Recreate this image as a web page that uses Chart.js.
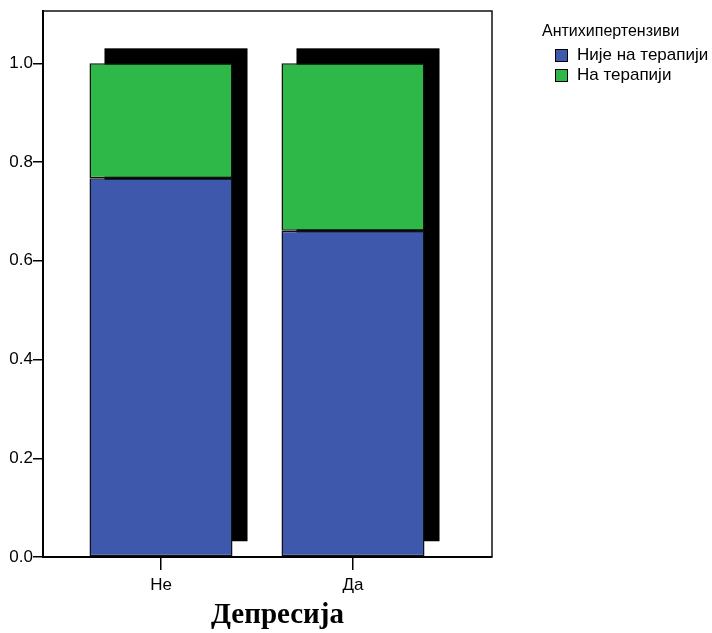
<!DOCTYPE html>
<html>
<head>
<meta charset="utf-8">
<script src="https://cdn.jsdelivr.net/npm/chart.js@4/dist/chart.umd.min.js"></script>
<style>
  body { margin: 0; background: #fff; }
  #wrap { position: relative; width: 712px; height: 633px; }
  .lg { position: absolute; font-family: "Liberation Sans", Arial, sans-serif; color: #000; white-space: nowrap; }
  .lg.title { font-size: 16px; line-height: 18px; }
  .lg.item { font-size: 17px; line-height: 20px; }
  .sw { position: absolute; width: 11px; height: 11px; border: 1px solid #000; }
</style>
</head>
<body>
<div id="wrap">
  <canvas id="c" width="712" height="633"></canvas>
  <div id="legend"></div>
</div>
<script>
// Share of patients by antihypertensive therapy, split by depression status
const categories = ['Не', 'Да'];
const notOnTherapy = [0.767, 0.661];
const onTherapy = [0.233, 0.339];
const yTicks = [0, 0.2, 0.4, 0.6, 0.8, 1.0];
const seriesNames = ['Није на терапији', 'На терапији'];
const legendTitle = 'Антихипертензиви';
const axisTitle = 'Депресија';
const seriesColors = ['#3E58AC', '#2EB848'];

const SHADOW = 15;

// Solid black drop shadow behind each whole stacked column
const shadowPlugin = {
  id: 'barShadow',
  beforeDatasetsDraw(chart) {
    const ctx = chart.ctx;
    const n = chart.data.datasets.length;
    const baseMeta = chart.getDatasetMeta(0);
    const topMeta = chart.getDatasetMeta(n - 1);
    ctx.save();
    ctx.fillStyle = '#000';
    baseMeta.data.forEach((bar, i) => {
      const top = topMeta.data[i].y;
      const base = bar.base;
      const w = bar.width;
      ctx.fillRect(bar.x - w / 2 + SHADOW, top - SHADOW, w, base - top);
    });
    ctx.restore();
  }
};

// Top/right frame of the plot box and the bold axis title underneath
const framePlugin = {
  id: 'frame',
  beforeDatasetsDraw(chart) {
    const { ctx, chartArea: a } = chart;
    ctx.save();
    ctx.strokeStyle = '#111';
    ctx.lineWidth = 1.5;
    ctx.beginPath();
    ctx.moveTo(a.left, a.top);
    ctx.lineTo(a.right, a.top);
    ctx.lineTo(a.right, a.bottom);
    ctx.stroke();
    ctx.restore();
  },
  afterDraw(chart) {
    const { ctx, chartArea: a } = chart;
    ctx.save();
    ctx.fillStyle = '#000';
    ctx.font = 'bold 29px "Liberation Serif", "Times New Roman", serif';
    ctx.textAlign = 'center';
    ctx.textBaseline = 'alphabetic';
    ctx.fillText(axisTitle, (a.left + a.right) / 2 + 10, a.bottom + 66);
    ctx.restore();
  }
};

const datasets = [notOnTherapy, onTherapy].map((vals, k) => ({
  label: seriesNames[k],
  data: categories.map((c, i) => ({ x: i, y: vals[i] })),
  backgroundColor: seriesColors[k],
  borderColor: '#111',
  borderWidth: 1.5,
  borderSkipped: false,
  categoryPercentage: 1,
  barPercentage: 0.745
}));

const tickFont = { family: '"Liberation Sans", Arial, sans-serif', size: 17 };

new Chart(document.getElementById('c'), {
  type: 'bar',
  data: { datasets },
  plugins: [shadowPlugin, framePlugin],
  options: {
    responsive: false,
    animation: false,
    layout: { padding: { top: 11, right: 220, left: 0, bottom: 0 } },
    plugins: { legend: { display: false }, tooltip: { enabled: false } },
    scales: {
      x: {
        type: 'linear',
        stacked: true,
        offset: false,
        min: -0.6146,
        max: 1.724,
        afterBuildTicks: s => { s.ticks = categories.map((c, i) => ({ value: i })); },
        afterFit: s => { s.height = 76; },
        ticks: {
          color: '#000',
          font: tickFont,
          padding: 5,
          maxRotation: 0,
          callback: v => categories[v]
        },
        grid: { offset: false, drawOnChartArea: false, drawTicks: true, tickLength: 13, color: '#000', lineWidth: 1.5 },
        border: { display: true, color: '#000', width: 2 }
      },
      y: {
        stacked: true,
        min: 0,
        max: 1.106,
        afterBuildTicks: s => { s.ticks = yTicks.map(v => ({ value: v })); },
        afterFit: s => { s.width = 43; },
        ticks: {
          color: '#000',
          font: tickFont,
          padding: 0,
          callback: v => Number(v).toFixed(1)
        },
        grid: { drawOnChartArea: false, drawTicks: true, tickLength: 10, color: '#000', lineWidth: 1.5 },
        border: { display: true, color: '#000', width: 2 }
      }
    }
  }
});

// Legend built from the series names and colours
const legend = document.getElementById('legend');
const t = document.createElement('div');
t.className = 'lg title';
t.style.left = '542px';
t.style.top = '22px';
t.textContent = legendTitle;
legend.appendChild(t);
seriesNames.forEach((name, k) => {
  const cy = 55 + k * 20;
  const sw = document.createElement('div');
  sw.className = 'sw';
  sw.style.left = '555px';
  sw.style.top = (cy - 6) + 'px';
  sw.style.background = seriesColors[k];
  legend.appendChild(sw);
  const lab = document.createElement('div');
  lab.className = 'lg item';
  lab.style.left = '577px';
  lab.style.top = (cy - 10) + 'px';
  lab.textContent = name;
  legend.appendChild(lab);
});
</script>
</body>
</html>
